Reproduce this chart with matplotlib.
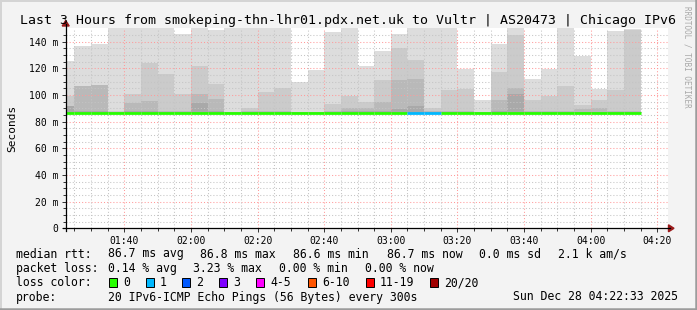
import datetime
import matplotlib
matplotlib.use('Agg')
import matplotlib.pyplot as plt
import matplotlib.dates as mdates
from matplotlib.lines import Line2D
from matplotlib.patches import Rectangle, Polygon

# smoke bands per 5 min step, in ms (outer band first, inner bands overwrite)
smoke_top = [125.5, 136.5, 138, 150, 150, 150, 150, 145.5, 150, 149, 150, 150,
             150, 150, 110, 118.5, 147, 150, 122, 133, 146, 150, 150, 150,
             119.7, 96, 138, 150, 111.7, 119.7, 150, 129.2, 104.7, 147.7, 149.5]
smoke_mid = [99, 106.5, 107.3, 88, 101, 124, 115.5, 100.5, 122, 108, 87.5, 90,
             102, 105, 87.5, 87.5, 93, 99, 95, 111.5, 135.5, 126, 90.5, 103.5,
             104.7, 87.5, 117.2, 145, 96, 99, 106.5, 92.2, 96.5, 103.5, 149]
smoke_low = [91.5, 106.5, 107.3, 87.5, 94, 95.5, 88, 88, 100.5, 97, 87, 88,
             88, 88, 87, 87, 88, 90, 90, 95, 111, 112, 88, 88,
             88, 87, 96.5, 105.5, 88, 88, 88, 89.7, 90.3, 88, 88]
smoke_core = [91.5, 88, 88, 87, 88, 88, 87, 87, 94, 88, 87, 87,
              87, 87, 87, 87, 87, 88, 88, 88, 89.7, 91.5, 87, 87,
              87, 87, 88, 100.5, 87, 87, 87, 87, 87, 87, 87]
median_ms = [86.7, 86.7, 86.7, 86.7, 86.7, 86.7, 86.7, 86.7, 86.7, 86.7, 86.7, 86.7,
             86.7, 86.7, 86.7, 86.7, 86.7, 86.7, 86.7, 86.7, 86.7, 86.6, 86.6, 86.7,
             86.7, 86.7, 86.7, 86.7, 86.7, 86.7, 86.7, 86.7, 86.7, 86.7, 86.7]
loss_count = [0, 0, 0, 0, 0, 0, 0, 0, 0, 0, 0, 0,
              0, 0, 0, 0, 0, 0, 0, 0, 0, 1, 1, 0,
              0, 0, 0, 0, 0, 0, 0, 0, 0, 0, 0]

loss_labels = ['0', '1', '2', '3', '4-5', '6-10', '11-19', '20/20']
loss_colors = ['#26ff00', '#00b8ff', '#0059ff', '#7e00ff', '#ff00ff', '#ff5500', '#ff0000', '#a10000']
ytick_vals = [0, 20, 40, 60, 80, 100, 120, 140]
ytick_labels = ['0', '20 m', '40 m', '60 m', '80 m', '100 m', '120 m', '140 m']

first_step = datetime.datetime(2025, 12, 28, 1, 20)
view_start = datetime.datetime(2025, 12, 28, 1, 22, 24)
view_end = datetime.datetime(2025, 12, 28, 4, 23, 18)

W, H = 697, 310
BG = '#f3f3f3'
MONO = 'DejaVu Sans Mono'


def fx(x):
    return x / W


def fy(y):
    return 1 - y / H


fig = plt.figure(figsize=(W / 100, H / 100), dpi=100, facecolor=BG)
ax = fig.add_axes([fx(65.7), fy(228.3), (668.3 - 65.7) / W, 200 / H])
ax.set_facecolor('white')

steps = [first_step + datetime.timedelta(minutes=5 * i) for i in range(len(smoke_top))]
xs = mdates.date2num(steps)
step_w = 5 / 1440
base = 86.2

shades = ['#dddddd', '#cbcbcb', '#b9b9b9', '#a9a9a9']
for band, shade in zip([smoke_top, smoke_mid, smoke_low, smoke_core], shades):
    ax.bar(xs, [v - base for v in band], bottom=base, width=step_w, align='edge',
           color=shade, linewidth=0, zorder=1)

# grid drawn over the smoke, like rrdtool
for v in range(5, 150, 5):
    col = '#ff9a9a' if v % 20 == 0 else '#c4c4c4'
    ax.axhline(v, color=col, lw=0.75, ls=(0, (1, 2)), zorder=2)
t = datetime.datetime(2025, 12, 28, 1, 25)
while t < view_end:
    col = '#ff9a9a' if t.minute % 20 == 0 else '#c4c4c4'
    ax.axvline(mdates.date2num(t), color=col, lw=0.75, ls=(0, (1, 2)), zorder=2)
    t += datetime.timedelta(minutes=5)

# median line coloured by loss
for x0, m, lc in zip(xs, median_ms, loss_count):
    if lc == 0:
        col = loss_colors[0]
    elif lc <= 3:
        col = loss_colors[lc]
    else:
        col = loss_colors[4]
    ax.plot([x0, x0 + step_w], [m, m], color=col, lw=2.0, solid_capstyle='butt', zorder=3)

ax.set_xlim(mdates.date2num(view_start), mdates.date2num(view_end))
ax.set_ylim(0, 150)
for s in ax.spines.values():
    s.set_visible(False)

ax.xaxis.set_major_locator(mdates.MinuteLocator(byminute=[0, 20, 40]))
ax.xaxis.set_minor_locator(mdates.MinuteLocator(byminute=range(0, 60, 5)))
ax.xaxis.set_major_formatter(mdates.DateFormatter('%H:%M'))
ax.set_yticks(ytick_vals)
ax.set_yticklabels(ytick_labels)
ax.set_yticks(range(5, 150, 5), minor=True)
ax.tick_params(axis='both', which='both', direction='out', color='#333333', width=0.7,
               labelsize=7, labelcolor='black')
ax.tick_params(axis='y', which='major', length=3, pad=2.5)
ax.tick_params(axis='y', which='minor', length=2)
ax.tick_params(axis='x', which='major', length=3, pad=2.5)
ax.tick_params(axis='x', which='minor', length=2)
for lab in ax.get_xticklabels() + ax.get_yticklabels():
    lab.set_family(MONO)

ax.set_ylabel('Seconds', family=MONO, fontsize=8, labelpad=8)

# axes with arrow heads
fig.add_artist(Line2D([fx(62.7), fx(670)], [fy(228.3), fy(228.3)], color='black', lw=0.9))
fig.add_artist(Line2D([fx(65.7), fx(65.7)], [fy(231), fy(24)], color='black', lw=0.9))
arrow_col = '#9b1b1b'
fig.add_artist(Polygon([[fx(668.5), fy(224.8)], [fx(668.5), fy(231.8)], [fx(674), fy(228.3)]],
                       closed=True, color=arrow_col, transform=fig.transFigure))
fig.add_artist(Polygon([[fx(62.2), fy(26)], [fx(69.2), fy(26)], [fx(65.7), fy(20.5)]],
                       closed=True, color=arrow_col, transform=fig.transFigure))

# title and side mark
fig.text(fx(20), fy(24), 'Last 3 Hours from smokeping-thn-lhr01.pdx.net.uk to Vultr | AS20473 | Chicago IPv6',
         family=MONO, fontsize=9.5, va='baseline', ha='left')
fig.text(fx(687), fy(6), 'RRDTOOL / TOBI OETIKER', family=MONO, fontsize=5.5, color='#a8a8a8',
         rotation=270, va='top', ha='center')

# legend block
rows = [
    (257.5, [(15.5, 'median rtt:'), (107.6, '86.7 ms avg'), (200, '86.8 ms max'),
             (293, '86.6 ms min'), (387, '86.7 ms now'), (479, '0.0 ms sd'), (558, '2.1 k am/s')]),
    (271.7, [(15.5, 'packet loss:'), (107.6, '0.14 % avg'), (193, '3.23 % max'),
             (279, '0.00 % min'), (365, '0.00 % now')]),
    (300.5, [(15.5, 'probe:'), (107.6, '20 IPv6-ICMP Echo Pings (56 Bytes) every 300s'),
             (513, 'Sun Dec 28 04:22:33 2025')]),
]
for yb, items in rows:
    for xp, txt in items:
        fig.text(fx(xp), fy(yb), txt, family=MONO, fontsize=8.3, va='baseline', ha='left')

fig.text(fx(15.5), fy(286), 'loss color:', family=MONO, fontsize=8.3, va='baseline', ha='left')
box_x = [109, 146, 182, 219, 256, 308, 366, 430]
for bx, lab, col in zip(box_x, loss_labels, loss_colors):
    fig.add_artist(Rectangle((fx(bx), fy(286.7)), 8 / W, 9 / H, transform=fig.transFigure,
                             facecolor=col, edgecolor='black', lw=0.7))
    fig.text(fx(bx + 14), fy(286), lab, family=MONO, fontsize=8.3, va='baseline', ha='left')

# 3d frame
fig.add_artist(Line2D([0, 1], [fy(0.5), fy(0.5)], color='#d4d4d4', lw=1.4))
fig.add_artist(Line2D([fx(0.5), fx(0.5)], [0, 1], color='#d4d4d4', lw=1.4))
fig.add_artist(Line2D([0, 1], [fy(309), fy(309)], color='#9c9c9c', lw=1.8))
fig.add_artist(Line2D([fx(696), fx(696)], [0, 1], color='#9c9c9c', lw=1.8))

fig.savefig('out.png', dpi=100, facecolor=BG)
